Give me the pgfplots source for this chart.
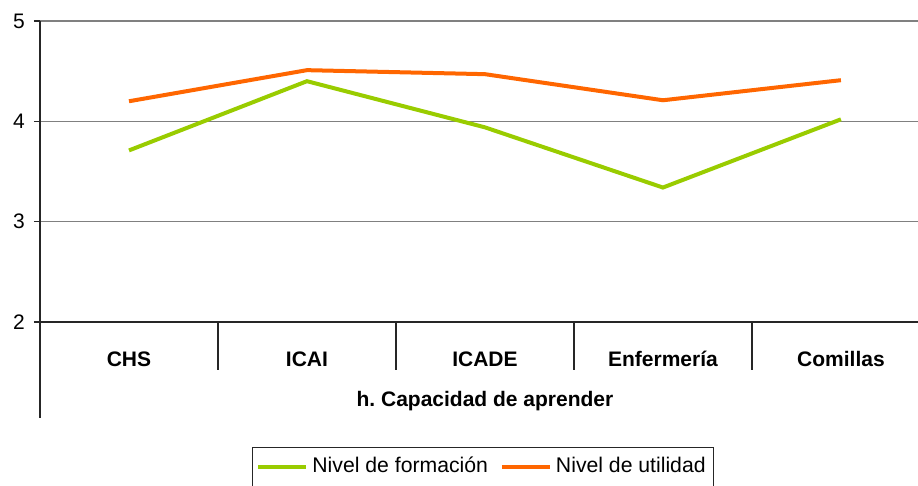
\documentclass[border=0pt]{standalone}
\usepackage{fontspec}
\setmainfont{Liberation Sans}
\usepackage{pgfplots}
\pgfplotsset{compat=1.18}
\definecolor{verde}{HTML}{99CC00}
\definecolor{naranja}{HTML}{FF6600}
\begin{document}
\begin{tikzpicture}
\path[use as bounding box, clip] (0,0) rectangle (459pt,243pt);
\begin{axis}[
    at={(20pt,82pt)}, anchor=south west,
    scale only axis, width=439pt, height=150.5pt,
    xmin=-0.5, xmax=4.433, ymin=2, ymax=5,
    clip=false,
    axis x line*=bottom, axis y line*=left,
    axis line style={black!85, line width=0.6pt},
    xtick={0,1,2,3,4},
    xticklabels={CHS,ICAI,ICADE,Enfermería,Comillas},
    x tick style={draw=none},
    xticklabel style={font=\fontsize{10.5}{12}\selectfont\bfseries, anchor=center, yshift=-15.5pt},
    ytick={2,3,4,5},
    y tick style={black!85, line width=0.6pt},
    tick align=outside, major tick length=3pt,
    yticklabel style={font=\fontsize{10.5}{12}\selectfont, anchor=center, xshift=-7.5pt},
    /pgf/number format/assume math mode=true,
    ymajorgrids, grid style={black!50, line width=0.6pt},
    xlabel={h.\ Capacidad de aprender},
    xlabel style={font=\fontsize{10.5}{12}\selectfont\bfseries, at={(axis description cs:0.5068,0)}, anchor=center, yshift=-39.5pt},
    legend columns=2,
    legend cell align=left,
    legend style={at={(axis description cs:0.2415,-0.415)}, anchor=north west,
        draw=black!85, font=\fontsize{10.6}{13}\selectfont,
        inner xsep=2pt, inner ysep=3pt,
        /tikz/every even column/.append style={column sep=4pt}},
    legend image code/.code={\draw[#1] (0pt,0pt) -- (24pt,0pt);},
]
\addplot[verde, line width=2pt, mark=none] coordinates {
    (0,3.71)(1,4.40)(2,3.94)(3,3.34)(4,4.02)
};
\addlegendentry{Nivel de formación}
\addplot[naranja, line width=2pt, mark=none] coordinates {
    (0,4.20)(1,4.51)(2,4.47)(3,4.21)(4,4.41)
};
\addlegendentry{Nivel de utilidad}

% category separators and group bracket
\draw[black!85, line width=0.6pt] (axis cs:-0.5,2) -- ++(0pt,-48pt);
\draw[black!85, line width=0.6pt] (axis cs:0.5,2) -- ++(0pt,-24pt);
\draw[black!85, line width=0.6pt] (axis cs:1.5,2) -- ++(0pt,-24pt);
\draw[black!85, line width=0.6pt] (axis cs:2.5,2) -- ++(0pt,-24pt);
\draw[black!85, line width=0.6pt] (axis cs:3.5,2) -- ++(0pt,-24pt);
\end{axis}
\end{tikzpicture}
\end{document}
